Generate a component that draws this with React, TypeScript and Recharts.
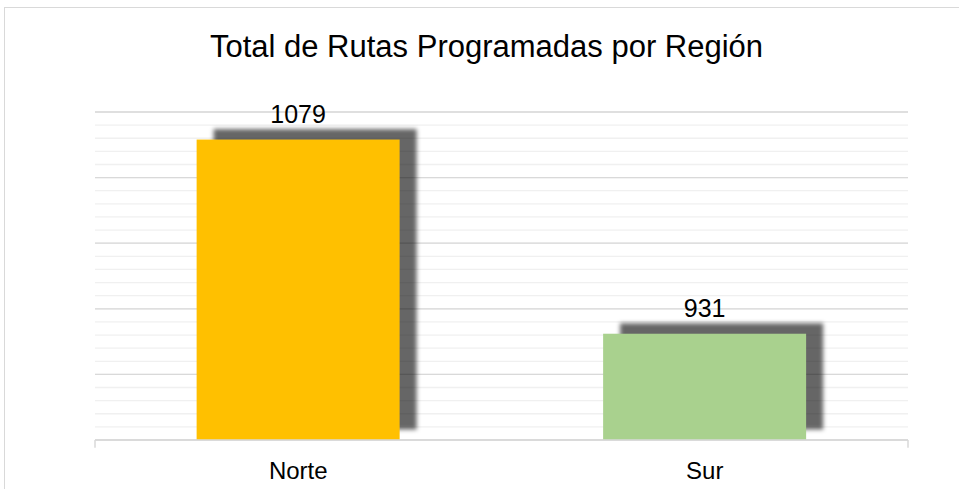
import React from 'react';
import { BarChart, Bar, XAxis, YAxis, CartesianGrid, LabelList, Cell, ReferenceLine } from 'recharts';

const categories = ['Norte', 'Sur'];
const values = [1079, 931];
const barColors = ['#FFC000', '#A9D18E'];
const majorTicks = [850, 900, 950, 1000, 1050, 1100];
const minorTicks = [850, 860, 870, 880, 890, 900, 910, 920, 930, 940, 950, 960, 970, 980, 990, 1000, 1010, 1020, 1030, 1040, 1050, 1060, 1070, 1080, 1090, 1100];
const boundaryTicks = [0, 1, 2];
const title = 'Total de Rutas Programadas por Región';

const data = categories.map((name, i) => ({ name, value: values[i] }));

const FONT = '"Liberation Sans", Arial, sans-serif';
const Y_MIN = 850;
const Y_MAX = 1100;
const TICK_DEPTH = 6;

const ShadowBar = (props: any) => {
  const { x, y, width, height, fill } = props;
  if (width == null || height == null) return null;
  return (
    <g>
      <rect x={x + 17} y={y - 10.5} width={width} height={height} fill="#000" fillOpacity={0.6} filter="url(#barShadowBlur)" />
      <rect x={x} y={y} width={width} height={height} fill={fill} />
    </g>
  );
};

export default function App() {
  return (
    <div style={{ position: 'absolute', left: 0, top: 0, width: 959, height: 489, overflow: 'hidden', background: '#fff' }}>
      <svg width={959} height={489} style={{ position: 'absolute', left: 0, top: 0 }}>
        <rect x={4.5} y={7.5} width={1000} height={600} fill="#fff" stroke="#d9d9d9" strokeWidth={1} />
        <text x={486.5} y={57} textAnchor="middle" fontFamily={FONT} fontSize={31} fill="#000">{title}</text>
      </svg>
      <div style={{ position: 'absolute', left: 0, top: 0 }}>
        <BarChart width={959} height={489} data={data} margin={{ top: 112, right: 51, left: 95, bottom: 9 }} barCategoryGap="25%">
          <defs>
            <filter id="barShadowBlur" x="-10%" y="-10%" width="120%" height="120%">
              <feGaussianBlur stdDeviation="2" />
            </filter>
          </defs>
          <YAxis yAxisId="minor" hide domain={[Y_MIN, Y_MAX]} ticks={minorTicks} interval={0} type="number" allowDataOverflow />
          <YAxis yAxisId="major" hide domain={[Y_MIN, Y_MAX]} ticks={majorTicks} interval={0} type="number" allowDataOverflow />
          <XAxis xAxisId="b" type="number" hide height={0} domain={[0, 2]} ticks={boundaryTicks} allowDataOverflow />
          <XAxis
            xAxisId="c"
            dataKey="name"
            height={40}
            axisLine={{ stroke: '#d9d9d9', strokeWidth: 1.5 }}
            tickLine={false}
            tickSize={0}
            tickMargin={22}
            tick={{ fontSize: 24, fill: '#000', fontFamily: FONT }}
            interval={0}
          />
          <CartesianGrid yAxisId="minor" xAxisId="c" vertical={false} stroke="#f0f0f0" strokeWidth={1.3} />
          <CartesianGrid yAxisId="major" xAxisId="c" vertical={false} stroke="#d9d9d9" strokeWidth={1.3} />
          {boundaryTicks.map((t) => (
            <ReferenceLine
              key={t}
              xAxisId="b"
              yAxisId="major"
              ifOverflow="visible"
              segment={[{ x: t, y: Y_MIN }, { x: t, y: Y_MIN - TICK_DEPTH }]}
              stroke="#d9d9d9"
              strokeWidth={1.5}
            />
          ))}
          <Bar dataKey="value" xAxisId="c" yAxisId="major" isAnimationActive={false} shape={<ShadowBar />}>
            {data.map((d, i) => (
              <Cell key={d.name} fill={barColors[i]} />
            ))}
            <LabelList dataKey="value" position="top" offset={17} style={{ fontSize: 25, fill: '#000', fontFamily: FONT }} />
          </Bar>
        </BarChart>
      </div>
    </div>
  );
}
